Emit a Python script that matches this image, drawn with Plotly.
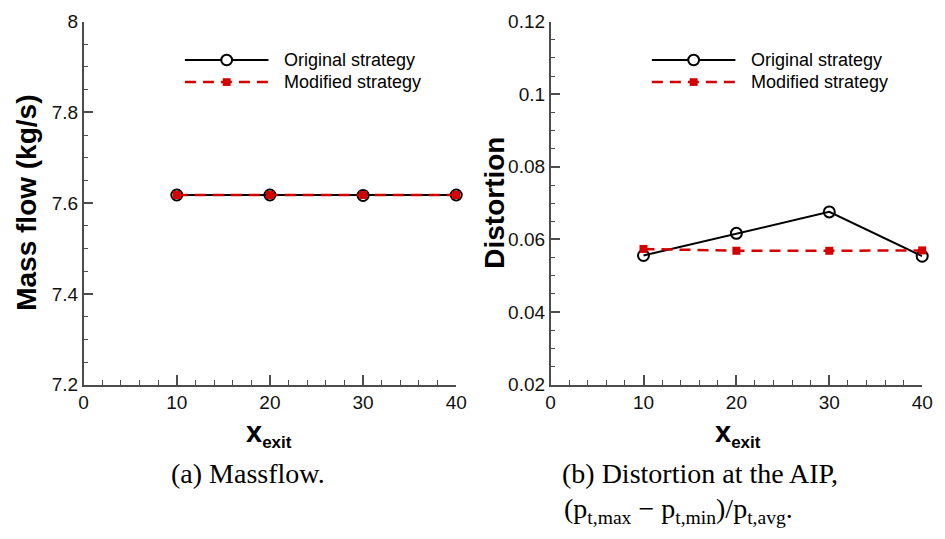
import plotly.graph_objects as go

W, H = 945, 539

x_exit = [10, 20, 30, 40]
massflow_original = [7.618, 7.618, 7.617, 7.618]
massflow_modified = [7.618, 7.618, 7.618, 7.618]
distortion_original = [0.0556, 0.0617, 0.0676, 0.0554]
distortion_modified = [0.0574, 0.0569, 0.0569, 0.0570]

legend_names = ["Original strategy", "Modified strategy"]
ylabels = ["Mass flow (kg/s)", "Distortion"]
captions = ["(a) Massflow.", "(b) Distortion at the AIP,",
            "(p<sub>t,max</sub> \u2212 p<sub>t,min</sub>)/p<sub>t,avg</sub>."]

BLACK = "#000000"
RED = "#d40000"
AXC = "#4d4d4d"
SANS = "Liberation Sans, Arial, sans-serif"
SERIF = "Liberation Serif, Times New Roman, serif"

def px(v):
    return v / W

def py(v):
    return 1 - v / H

fig = go.Figure()

for xa, ya, yo, ym in [("x", "y", massflow_original, massflow_modified),
                       ("x2", "y2", distortion_original, distortion_modified)]:
    fig.add_trace(go.Scatter(
        x=x_exit, y=yo, xaxis=xa, yaxis=ya, mode="lines+markers",
        name=legend_names[0], showlegend=False, cliponaxis=False,
        line=dict(color=BLACK, width=2),
        marker=dict(symbol="circle-open", size=11, color=BLACK, line=dict(width=2))))
    fig.add_trace(go.Scatter(
        x=x_exit, y=ym, xaxis=xa, yaxis=ya, mode="lines+markers",
        name=legend_names[1], showlegend=False, cliponaxis=False,
        line=dict(color=RED, width=2.5, dash="11px,7px"),
        marker=dict(symbol="square", size=8, color=RED)))

dom_y = [py(390), py(12)]
common_x = dict(range=[0, 40], tickvals=[0, 10, 20, 30, 40], ticks="inside", ticklen=10,
                tickwidth=1.5, tickcolor=AXC, showline=True, linecolor=AXC, linewidth=1.5,
                showgrid=False, zeroline=False,
                minor=dict(dtick=2, ticks="inside", ticklen=5, tickwidth=1.2, tickcolor=AXC, showgrid=False),
                tickfont=dict(family=SANS, size=19, color="#111"))
common_y = dict(ticks="inside", ticklen=10, tickwidth=1.5, tickcolor=AXC, showline=True,
                linecolor=AXC, linewidth=1.5, showgrid=False, zeroline=False,
                tickfont=dict(family=SANS, size=19, color="#111"))

fig.update_layout(
    width=W, height=H, margin=dict(l=0, r=0, t=0, b=0),
    paper_bgcolor="white", plot_bgcolor="white", showlegend=False,
    xaxis=dict(domain=[px(80), px(459)], anchor="y", **common_x),
    yaxis=dict(domain=dom_y, anchor="x", range=[7.2, 8], dtick=0.2,
               minor=dict(dtick=0.05, ticks="inside", ticklen=5, tickwidth=1.2, tickcolor=AXC, showgrid=False),
               **common_y),
    xaxis2=dict(domain=[px(555), px(933)], anchor="y2", **common_x),
    yaxis2=dict(domain=dom_y, anchor="x2", range=[0.02, 0.12], dtick=0.02,
                minor=dict(dtick=0.005, ticks="inside", ticklen=5, tickwidth=1.2, tickcolor=AXC, showgrid=False),
                **common_y),
)

def A(text, x, y, size, family=SANS, xanchor="center", angle=0, yanchor="middle"):
    return dict(text=text, x=px(x), y=py(y), xref="paper", yref="paper", xanchor=xanchor,
                yanchor=yanchor, textangle=angle, showarrow=False,
                font=dict(family=family, size=size, color="black"))

ann = []
ann.append(A("<b>%s</b>" % ylabels[0], 22, 201, 28, angle=-90))
ann.append(A("<b>%s</b>" % ylabels[1], 498, 201, 28, angle=-90))
for cx in (269, 746):
    ann.append(A("<b>x</b><sub><b><span style='font-size:17px'>exit</span></b></sub>", cx, 441, 29))
ann.append(A(captions[0], 247, 482, 28, family=SERIF))
ann.append(A(captions[1], 565, 482, 28, family=SERIF, xanchor="left"))
ann.append(A(captions[2], 567, 500, 28, family=SERIF, xanchor="left", yanchor="top"))

shapes = []
for lx0, lx1, tx in [(183, 268, 282), (658, 743, 757)]:
    mx = (lx0 + lx1) / 2
    y1, y2 = 52, 75
    shapes.append(dict(type="line", xref="paper", yref="paper", x0=px(lx0), x1=px(lx1),
                       y0=py(y1), y1=py(y1), line=dict(color=BLACK, width=2)))
    shapes.append(dict(type="circle", xref="paper", yref="paper", x0=px(mx - 5.5), x1=px(mx + 5.5),
                       y0=py(y1 - 5.5), y1=py(y1 + 5.5), line=dict(color=BLACK, width=2), fillcolor="white"))
    shapes.append(dict(type="line", xref="paper", yref="paper", x0=px(lx0), x1=px(lx1),
                       y0=py(y2), y1=py(y2), line=dict(color=RED, width=2.5, dash="11px,7px")))
    shapes.append(dict(type="rect", xref="paper", yref="paper", x0=px(mx - 4), x1=px(mx + 4),
                       y0=py(y2 - 4), y1=py(y2 + 4), line=dict(width=0), fillcolor=RED))
    ann.append(A(legend_names[0], tx, y1, 18, xanchor="left"))
    ann.append(A(legend_names[1], tx, y2, 18, xanchor="left"))

fig.update_layout(annotations=ann, shapes=shapes)
fig.write_html("out.html",
               post_script="document.body.style.margin='0';document.body.style.padding='0';"
                           "document.documentElement.style.overflow='hidden';")
